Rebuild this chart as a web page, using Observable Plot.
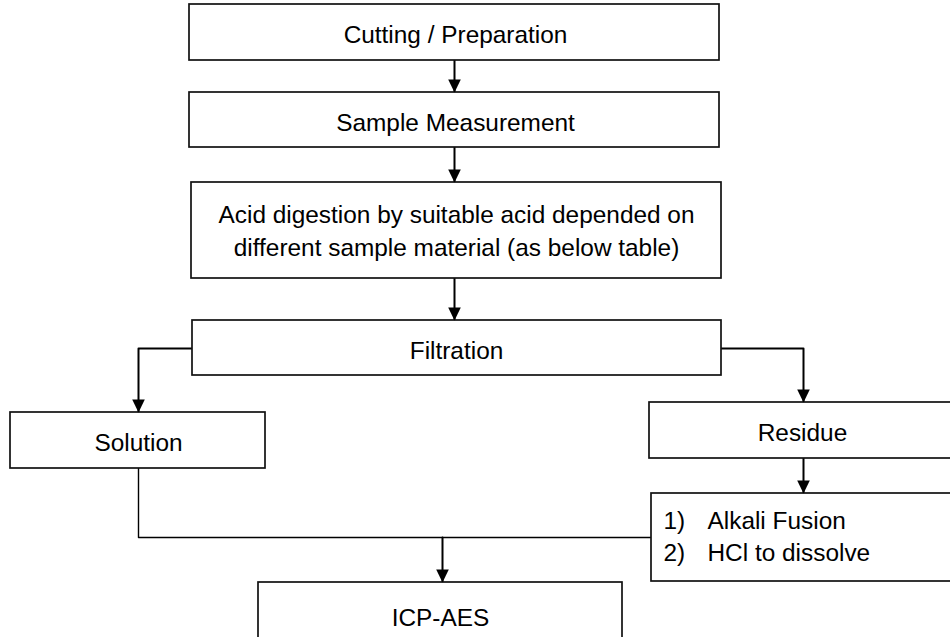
<!DOCTYPE html>
<html>
<head>
<meta charset="utf-8">
<script src="https://cdn.jsdelivr.net/npm/d3@7"></script>
<script src="https://cdn.jsdelivr.net/npm/@observablehq/plot@0.6"></script>
<style>
  html, body { margin: 0; padding: 0; background: #fff; }
</style>
</head>
<body>
<div id="chart"></div>
<script>
// ---- Flowchart content ----
const stepIds = ["cut", "measure", "digest", "filter", "solution", "residue", "fusion", "icp"];
const stepLabels = [
  "Cutting / Preparation",
  "Sample Measurement",
  "Acid digestion by suitable acid depended on\ndifferent sample material (as below table)",
  "Filtration",
  "Solution",
  "Residue",
  "",
  "ICP-AES"
];
const fusionNumbers = ["1)", "2)"];
const fusionItems = ["Alkali Fusion", "HCl to dissolve"];

// ---- Layout (pixel grid of the page) ----
const boxX1 = [189, 189, 191, 192, 10, 649, 651, 258];
const boxX2 = [719, 719, 721, 721, 265, 955, 955, 622];
const boxY1 = [4, 92, 182, 320, 412, 402, 493, 582];
const boxY2 = [60, 147, 278, 375, 468, 458, 581, 660];
const labelX = [455, 455, 456, 456, 138, 802, 0, 440];
const labelY = [32, 119.5, 228, 347.5, 440, 430, 0, 614.5];

// connectors: [id, arrow?, points]
const connectors = [
  ["a1", true, [[454, 60], [454, 92]]],
  ["a2", true, [[454, 147], [454, 182]]],
  ["a3", true, [[454, 278], [454, 320]]],
  ["a4", true, [[192, 348], [138, 348], [138, 412]]],
  ["a5", true, [[721, 348], [803, 348], [803, 402]]],
  ["a6", true, [[803, 458], [803, 493]]],
  ["m1", false, [[138, 468], [138, 537], [651, 537]]],
  ["a7", true, [[442, 537], [442, 582]]]
];

// ---- Derived tables ----
const boxes = stepIds.map((id, i) => ({
  id, label: stepLabels[i], x1: boxX1[i], x2: boxX2[i], y1: boxY1[i], y2: boxY2[i], lx: labelX[i], ly: labelY[i]
}));
const segs = connectors.flatMap(([id, arrow, pts]) => pts.map(([x, y]) => ({id, arrow, x, y})));
const tips = connectors.filter(c => c[1]).map(([id, , pts]) => ({id, x: pts[pts.length - 1][0], y: pts[pts.length - 1][1]}));
const fusionText = [
  {x: 663, y: 534.5, t: fusionNumbers.join("\n")},
  {x: 707, y: 534.5, t: fusionItems.join("\n")}
];

// Downward filled arrowhead with its tip at the origin
const arrowHead = {
  draw(ctx) {
    ctx.moveTo(0, 0);
    ctx.lineTo(-6.3, -13);
    ctx.lineTo(6.3, -13);
    ctx.closePath();
  }
};

const font = "'Liberation Sans', Arial, Helvetica, sans-serif";

const chart = Plot.plot({
  width: 950,
  height: 637,
  margin: 0,
  x: {domain: [0, 950], axis: null},
  y: {domain: [0, 637], reverse: true, axis: null},
  style: {background: "#fff", fontFamily: font},
  marks: [
    Plot.line(segs.filter(d => d.id !== "m1"), {x: "x", y: "y", z: "id", stroke: "#000", strokeWidth: 2, curve: "linear"}),
    Plot.line(segs.filter(d => d.id === "m1"), {x: "x", y: "y", z: "id", stroke: "#000", strokeWidth: 1.4, curve: "linear"}),
    Plot.rect(boxes, {x1: "x1", x2: "x2", y1: "y1", y2: "y2", fill: "#fff", stroke: "#111", strokeWidth: 1.7}),
    Plot.dot(tips, {x: "x", y: "y", symbol: arrowHead, fill: "#000", stroke: "none", r: 4}),
    Plot.text(boxes.filter(d => d.label), {x: "lx", y: "ly", text: "label", fontSize: 24.4, fill: "#000", fontFamily: font, lineHeight: 1.355}),
    Plot.text(fusionText, {x: "x", y: "y", text: "t", fontSize: 24.4, fill: "#000", fontFamily: font, textAnchor: "start", lineHeight: 1.28})
  ]
});
document.getElementById("chart").append(chart);
</script>
</body>
</html>
